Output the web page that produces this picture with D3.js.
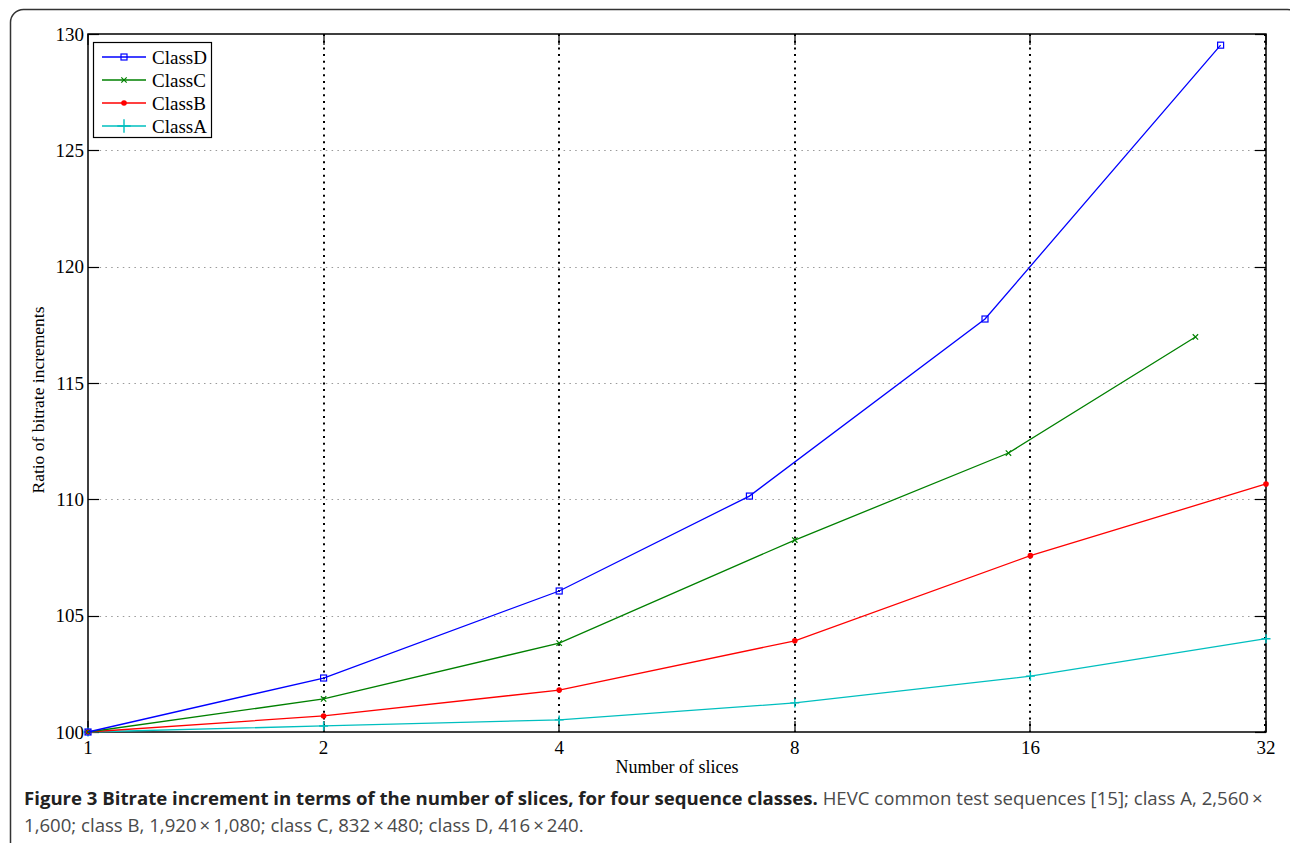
<!DOCTYPE html>
<html>
<head>
<meta charset="utf-8">
<script src="https://cdn.jsdelivr.net/npm/d3@7"></script>
<style>
  html, body { margin: 0; padding: 0; background: #fff; }
  svg { display: block; }
</style>
</head>
<body>
<svg id="chart" width="1290" height="843"></svg>
<script>
// Slice counts and bitrate ratios (%) per sequence class
const classDSlices = [1, 2, 4, 7, 14, 28];
const classDRatio  = [100, 102.32, 106.06, 110.14, 117.75, 129.52];
const classCSlices = [1, 2, 4, 8, 15, 26];
const classCRatio  = [100, 101.42, 103.82, 108.25, 111.99, 116.98];
const classBSlices = [1, 2, 4, 8, 16, 32];
const classBRatio  = [100, 100.69, 101.8, 103.92, 107.58, 110.66];
const classASlices = [1, 2, 4, 8, 16, 32];
const classARatio  = [100, 100.26, 100.52, 101.25, 102.4, 104.01];

const seriesNames = ["ClassD", "ClassC", "ClassB", "ClassA"];
const xTicks = [1, 2, 4, 8, 16, 32];
const yTicks = [100, 105, 110, 115, 120, 125, 130];

const captionBold = "Figure 3 Bitrate increment in terms of the number of slices, for four sequence classes.";
const captionLine1 = " HEVC common test sequences [15]; class A, 2,560\u2009\u00d7";
const captionLine2 = "1,600; class B, 1,920\u2009\u00d7\u20091,080; class C, 832\u2009\u00d7\u2009480; class D, 416\u2009\u00d7\u2009240.";

const series = [
  { name: seriesNames[0], xs: classDSlices, ys: classDRatio, color: "#0000ff", marker: "square" },
  { name: seriesNames[1], xs: classCSlices, ys: classCRatio, color: "#008000", marker: "cross" },
  { name: seriesNames[2], xs: classBSlices, ys: classBRatio, color: "#ff0000", marker: "dot" },
  { name: seriesNames[3], xs: classASlices, ys: classARatio, color: "#00bfbf", marker: "plus" }
];

const svg = d3.select("#chart");
const serif = "'Liberation Serif', 'Times New Roman', serif";
const sans = "'Open Sans', 'Noto Sans', sans-serif";

// Rounded figure frame
svg.append("rect")
  .attr("x", 10.5).attr("y", 9.5)
  .attr("width", 1290).attr("height", 850)
  .attr("rx", 13).attr("ry", 13)
  .attr("fill", "none").attr("stroke", "#333").attr("stroke-width", 1.5);

const plotLeft = 88, plotRight = 1266, plotTop = 34, plotBottom = 732;
const x = d3.scaleLog().base(2).domain([1, 32]).range([plotLeft, plotRight]);
const y = d3.scaleLinear().domain([100, 130]).range([plotBottom, plotTop]);

const g = svg.append("g");

// Horizontal grid (grey dotted)
g.append("g").selectAll("line")
  .data(yTicks.filter(v => v > 100 && v < 130))
  .join("line")
  .attr("x1", plotLeft).attr("x2", plotRight)
  .attr("y1", d => Math.round(y(d)) + 0.5).attr("y2", d => Math.round(y(d)) + 0.5)
  .attr("stroke", "#9a9a9a").attr("stroke-width", 1.2)
  .attr("stroke-dasharray", "1.5,4.3");

// Vertical grid (black dotted)
g.append("g").selectAll("line")
  .data(xTicks.filter(v => v > 1 && v < 32))
  .join("line")
  .attr("x1", d => Math.round(x(d))).attr("x2", d => Math.round(x(d)))
  .attr("y1", plotTop).attr("y2", plotBottom)
  .attr("stroke", "#000").attr("stroke-width", 2)
  .attr("stroke-dasharray", "2,4.7");

// Right edge dotted overlay
g.append("line")
  .attr("x1", plotRight - 1).attr("x2", plotRight - 1)
  .attr("y1", plotTop).attr("y2", plotBottom)
  .attr("stroke", "#000").attr("stroke-width", 2)
  .attr("stroke-dasharray", "2,4.7");

// Axis box
g.append("rect")
  .attr("x", plotLeft).attr("y", plotTop)
  .attr("width", plotRight - plotLeft).attr("height", plotBottom - plotTop)
  .attr("fill", "none").attr("stroke", "#000").attr("stroke-width", 1.5);

// Inward tick marks
const tickLen = 11;
const tickG = g.append("g");
yTicks.forEach(v => {
  const yy = Math.round(y(v)) + 0.5;
  tickG.append("line").attr("x1", plotLeft).attr("x2", plotLeft + tickLen).attr("y1", yy).attr("y2", yy)
    .attr("stroke", "#000").attr("stroke-width", 1.2);
  tickG.append("line").attr("x1", plotRight - tickLen).attr("x2", plotRight).attr("y1", yy).attr("y2", yy)
    .attr("stroke", "#000").attr("stroke-width", 1.2);
});
xTicks.forEach(v => {
  const xx = Math.round(x(v));
  tickG.append("line").attr("x1", xx).attr("x2", xx).attr("y1", plotBottom).attr("y2", plotBottom - tickLen)
    .attr("stroke", "#000").attr("stroke-width", 1.2);
  tickG.append("line").attr("x1", xx).attr("x2", xx).attr("y1", plotTop).attr("y2", plotTop + tickLen)
    .attr("stroke", "#000").attr("stroke-width", 1.2);
});

// Tick labels
g.append("g").selectAll("text")
  .data(yTicks).join("text")
  .attr("x", plotLeft - 4).attr("y", d => y(d) + 6.5)
  .attr("text-anchor", "end")
  .attr("font-family", serif).attr("font-size", 19)
  .text(d => d);

g.append("g").selectAll("text")
  .data(xTicks).join("text")
  .attr("x", d => x(d)).attr("y", plotBottom + 22)
  .attr("text-anchor", "middle")
  .attr("font-family", serif).attr("font-size", 19)
  .text(d => d);

// Axis titles
g.append("text")
  .attr("x", (plotLeft + plotRight) / 2).attr("y", 773)
  .attr("text-anchor", "middle")
  .attr("font-family", serif).attr("font-size", 18)
  .text("Number of slices");

g.append("text")
  .attr("transform", "translate(44,400) rotate(-90)")
  .attr("text-anchor", "middle")
  .attr("font-family", serif).attr("font-size", 17.5)
  .text("Ratio of bitrate increments");

// Marker drawing
function drawMarker(sel, type, color, cx, cy, scale) {
  const s = scale || 1;
  if (type === "square") {
    const h = 3 * s;
    sel.append("rect").attr("x", cx - h).attr("y", cy - h).attr("width", 2 * h).attr("height", 2 * h)
      .attr("fill", "none").attr("stroke", color).attr("stroke-width", 1.2);
  } else if (type === "cross") {
    const h = 2.7 * s;
    sel.append("path").attr("d", `M${cx - h},${cy - h}L${cx + h},${cy + h}M${cx - h},${cy + h}L${cx + h},${cy - h}`)
      .attr("stroke", color).attr("stroke-width", 1.2);
  } else if (type === "dot") {
    sel.append("circle").attr("cx", cx).attr("cy", cy).attr("r", 2.8 * s).attr("fill", color);
  } else if (type === "plus") {
    const h = 4.5 * s;
    sel.append("path").attr("d", `M${cx - h},${cy}L${cx + h},${cy}M${cx},${cy - h}L${cx},${cy + h}`)
      .attr("stroke", color).attr("stroke-width", 1.4);
  }
}

const line = d3.line().x(d => x(d[0])).y(d => y(d[1]));
const plot = g.append("g");
// Draw from back (ClassA) to front (ClassD)
series.slice().reverse().forEach(s => {
  const pts = s.xs.map((v, i) => [v, s.ys[i]]);
  plot.append("path").datum(pts).attr("d", line)
    .attr("fill", "none").attr("stroke", s.color).attr("stroke-width", 1.3);
  const mg = plot.append("g");
  pts.forEach(p => drawMarker(mg, s.marker, s.color, x(p[0]), y(p[1])));
});

// Legend
const legend = g.append("g");
legend.append("rect")
  .attr("x", 93.5).attr("y", 42.5).attr("width", 118).attr("height", 95)
  .attr("fill", "#fff").attr("stroke", "#000").attr("stroke-width", 1.2);
series.forEach((s, i) => {
  const ly = 57 + i * 23;
  legend.append("line").attr("x1", 102).attr("x2", 146).attr("y1", ly).attr("y2", ly)
    .attr("stroke", s.color).attr("stroke-width", 1.3);
  drawMarker(legend, s.marker, s.color, 124, ly, s.marker === "plus" ? 1.5 : 1);
  legend.append("text").attr("x", 152).attr("y", ly + 6.5)
    .attr("font-family", serif).attr("font-size", 19)
    .text(s.name);
});

// Caption
const cap = svg.append("text")
  .attr("x", 24).attr("y", 805)
  .attr("font-family", sans).attr("font-size", 18.6);
cap.append("tspan").attr("font-weight", "bold").attr("fill", "#222").text(captionBold);
cap.append("tspan").attr("fill", "#4a4a4a").text(captionLine1);
svg.append("text")
  .attr("x", 24).attr("y", 832)
  .attr("font-family", sans).attr("font-size", 18.6).attr("fill", "#4a4a4a")
  .text(captionLine2);
</script>
</body>
</html>
